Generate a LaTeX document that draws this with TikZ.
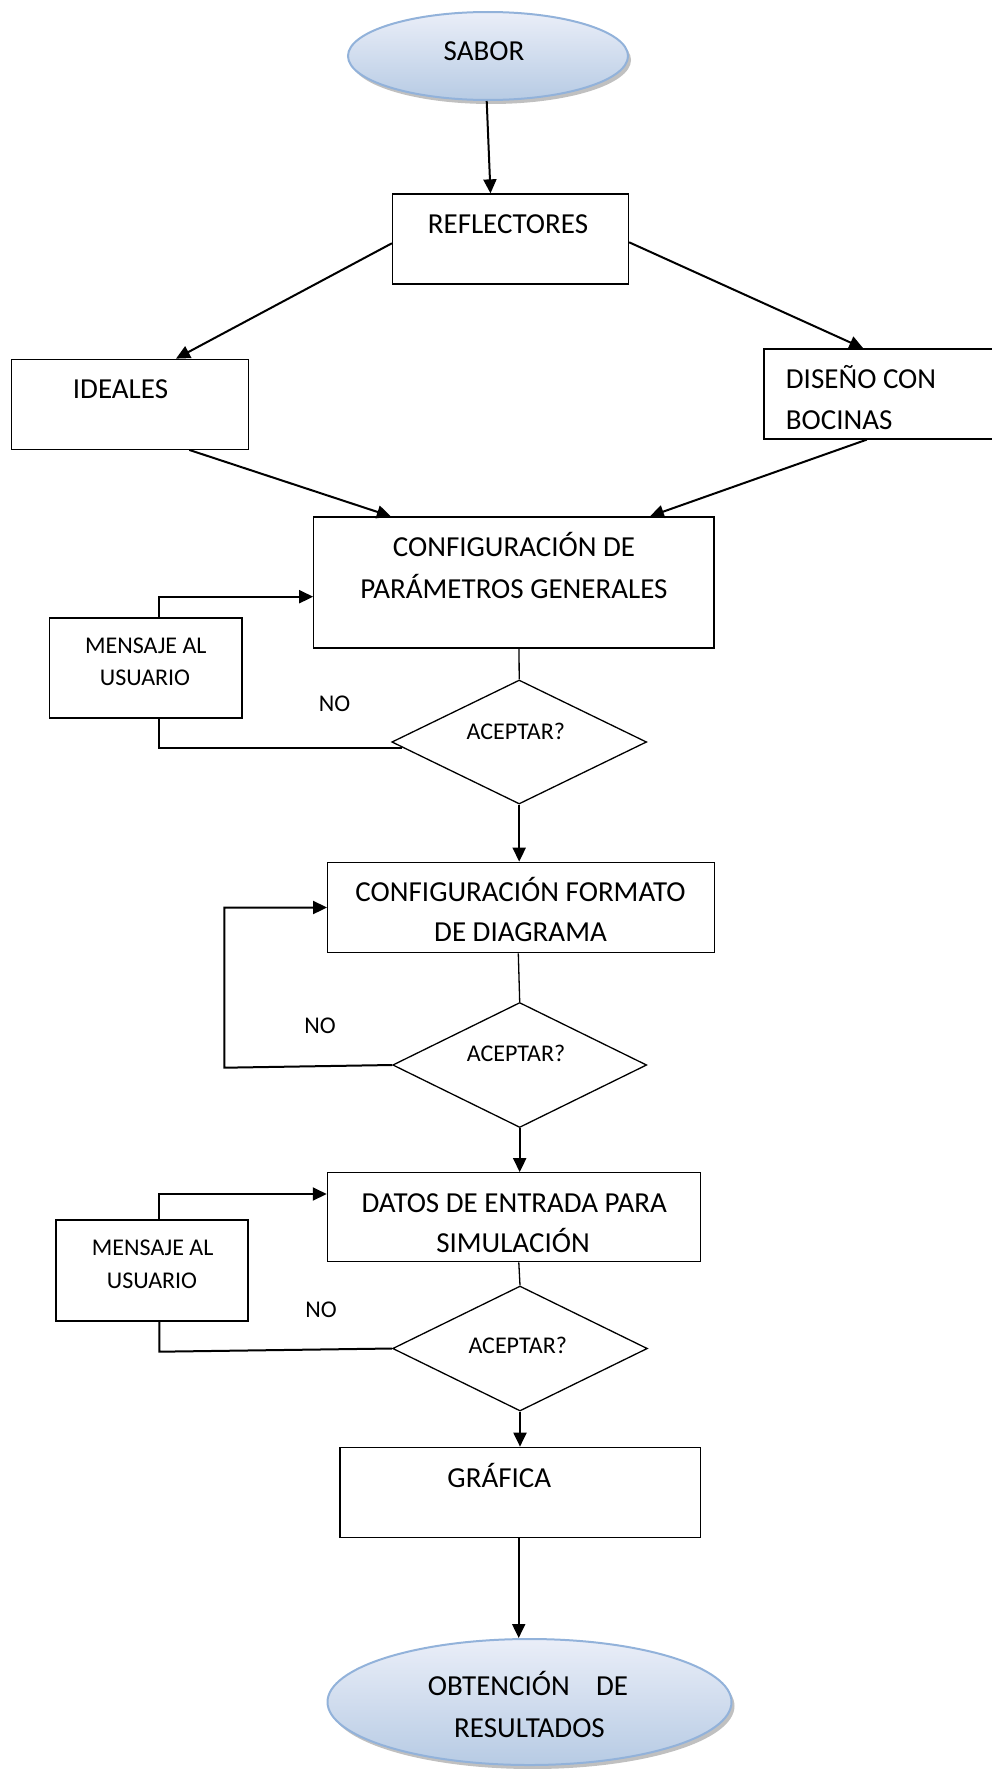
\documentclass[tikz,border=0pt]{standalone}
\usepackage{fontspec}
\setmainfont{Carlito}
\usetikzlibrary{shapes.geometric,arrows.meta,calc,shadows}
\definecolor{ovtop}{RGB}{234,238,248}
\definecolor{ovbot}{RGB}{183,203,228}
\definecolor{ovline}{RGB}{146,178,218}

\begin{document}
\begin{tikzpicture}[x=1pt,y=-1pt,
  box/.style={draw=black, line width=1.3pt, rectangle, inner sep=0pt},
  choice/.style={draw=black, line width=1.3pt, diamond, inner sep=0pt},
  oval/.style={ellipse, draw=ovline, line width=2pt, inner sep=0pt,
    top color=ovtop, bottom color=ovbot,
    drop shadow={shadow xshift=3pt, shadow yshift=-4pt, opacity=0.45, fill=black!55}},
  txt/.style={inner sep=0pt, anchor=base, font=\fontsize{29}{35}\selectfont},
  small/.style={inner sep=0pt, anchor=base, font=\fontsize{24}{29}\selectfont},
  flow/.style={line width=2pt, -{Triangle[length=14pt,width=13pt]}},
  link/.style={line width=1.3pt}
]
\useasboundingbox (0,0) rectangle (992,1769);
\clip (0,0) rectangle (992,1769);

% start and end ovals
\node[oval, minimum width=280pt, minimum height=88pt] (sabor) at (488,56) {};
\node[txt] (saborT) at (484,60) {SABOR};
\node[oval, minimum width=404pt, minimum height=126pt] (obt) at (529.5,1702) {};
\node[txt] (obtA) at (528,1695) {OBTENCIÓN\ \ \ \ DE};
\node[txt] (obtB) at (529.5,1737) {RESULTADOS};

% process boxes
\node[box, minimum width=236pt, minimum height=90pt] (refl) at (510.5,239) {};
\node[txt] (reflT) at (508,233) {REFLECTORES};

\node[box, minimum width=236.6pt, minimum height=90pt] (ideal) at (130,404.3) {};
\node[txt] (idealT) at (120.5,398.3) {IDEALES};

\node[box, minimum width=240pt, minimum height=90pt] (disen) at (884,394) {};
\node[txt, anchor=base west] (disenA) at (785.7,388.3) {DISEÑO CON};
\node[txt, anchor=base west] (disenB) at (785.7,429.3) {BOCINAS};

\node[box, minimum width=400.2pt, minimum height=131pt] (cfg) at (513.9,582.5) {};
\node[txt] (cfgA) at (514,556) {CONFIGURACIÓN DE};
\node[txt] (cfgB) at (514,598) {PARÁMETROS GENERALES};

\node[box, minimum width=192.4pt, minimum height=100pt] (msg1) at (145.8,668) {};
\node[small] (msg1A) at (145.8,653) {MENSAJE AL};
\node[small] (msg1B) at (145,685) {USUARIO};

\node[box, minimum width=386.6pt, minimum height=90.4pt] (fmt) at (521,907.5) {};
\node[txt] (fmtA) at (520.5,901) {CONFIGURACIÓN FORMATO};
\node[txt] (fmtB) at (520.5,941.7) {DE DIAGRAMA};

\node[box, minimum width=372.8pt, minimum height=89pt] (datos) at (513.8,1217.3) {};
\node[txt] (datosA) at (514.2,1212) {DATOS DE ENTRADA PARA};
\node[txt] (datosB) at (513,1252) {SIMULACIÓN};

\node[box, minimum width=192pt, minimum height=101pt] (msg2) at (152,1270.5) {};
\node[small] (msg2A) at (152.7,1255) {MENSAJE AL};
\node[small] (msg2B) at (152,1288) {USUARIO};

\node[box, minimum width=360.7pt, minimum height=90.4pt] (graf) at (520.3,1492.5) {};
\node[txt] (grafT) at (499.3,1487.3) {GRÁFICA};

% decisions
\node[choice, minimum width=254.8pt, minimum height=124pt] (d1) at (519.2,742) {};
\node[small] (d1T) at (515.8,739) {ACEPTAR?};
\node[choice, minimum width=254pt, minimum height=125pt] (d2) at (519.7,1065) {};
\node[small] (d2T) at (516,1061.7) {ACEPTAR?};
\node[choice, minimum width=254.8pt, minimum height=125pt] (d3) at (520,1348.5) {};
\node[small] (d3T) at (517.7,1353) {ACEPTAR?};

% rejection labels
\node[small] (no1) at (334.6,711) {NO};
\node[small] (no2) at (320,1033.3) {NO};
\node[small] (no3) at (321,1317) {NO};

% corners of the return paths
\coordinate (loopA) at (224.3,1067.7);
\coordinate (loopB) at (159.3,1351.7);

% connectors
\draw[flow] ($(sabor.south)+(-1.3,0)$) -- ($(refl.north)+(-20,0)$);
\draw[flow] ($(refl.west)+(0,4.3)$) -- ($(ideal.north)+(46,0)$);
\draw[flow] ($(refl.east)+(0,3.3)$) -- ($(disen.north)+(-20.7,0)$);
\draw[flow] ($(ideal.south)+(59.3,0)$) -- ($(cfg.north)+(-123,0)$);
\draw[flow] ($(disen.south)+(-17.3,0)$) -- ($(cfg.north)+(136,0)$);

\draw[flow] ($(msg1.north)+(13.2,0)$) |- ($(cfg.west)+(0,14.2)$);
\draw[link] ($(cfg.south)+(5.1,0)$) -- (d1.north);
\draw[flow, -] ($(d1.west)+(11,5.5)$) -| ($(msg1.south)+(13.2,0)$);
\draw[flow] (d1.south) -- (d1.south |- fmt.north);

\draw[link] ($(fmt.south)+(-2.7,0)$) -- (d2.north);
\draw[flow] (d2.west) -- (loopA) |- (fmt.west);
\draw[flow] (d2.south) -- (d2.south |- datos.north);

\draw[flow] ($(msg2.north)+(7.3,0)$) |- ($(datos.west)+(0,-23.3)$);
\draw[link] ($(datos.south)+(5,0)$) -- (d3.north);
\draw[flow, -] (d3.west) -- (loopB) -- ($(msg2.south)+(7.3,0)$);
\draw[flow] (d3.south) -- (d3.south |- graf.north);

\draw[flow] ($(graf.south)+(-1.6,0)$) -- ($(graf.south |- obt.north)+(-1.6,0)$);
\end{tikzpicture}
\end{document}
